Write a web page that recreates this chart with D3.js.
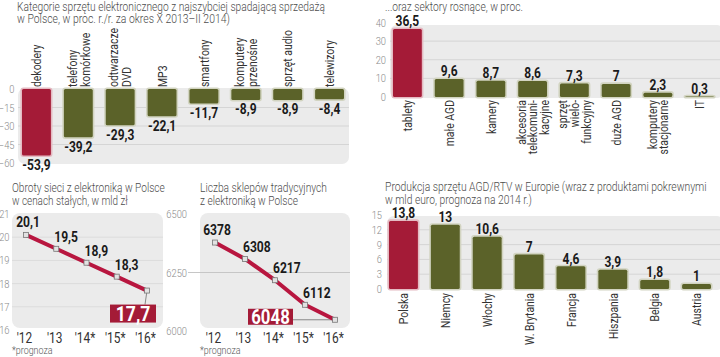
<!DOCTYPE html>
<html><head><meta charset="utf-8">
<script src="https://cdn.jsdelivr.net/npm/d3@7"></script>
<style>
body{margin:0;background:#fff;}
svg{display:block;}
</style></head><body>
<svg id="c" width="720" height="357"></svg>
<script>
// ---------- DATA ----------
const declineCats = ["dekodery","telefony|komórkowe","odtwarzacze|DVD","MP3","smartfony","komputery|przenośne","sprzęt audio","telewizory"];
const declineVals = [-53.9,-39.2,-29.3,-22.1,-11.7,-8.9,-8.9,-8.4];
const declineTicks = [0,-15,-30,-45,-60];

const growthCats = ["tablety","małe AGD","kamery","akcesoria|telekomuni-|kacyjne","sprzęt|wielo-|funkcyjny","duże AGD","komputery|stacjonarne","IT"];
const growthVals = [36.5,9.6,8.7,8.6,7.3,7,2.3,0.3];
const growthTicks = [0,10,20,30,40];

const years = ["'12","'13","'14*","'15*","'16*"];
const turnoverVals = [20.1,19.5,18.9,18.3,17.7];
const turnoverTicks = [16,17,18,19,20,21];
const shopVals = [6378,6308,6217,6112,6048];
const shopTicks = [6000,6250,6500];

const countries = ["Polska","Niemcy","Włochy","W. Brytania","Francja","Hiszpania","Belgia","Austria"];
const prodVals = [13.8,13,10.6,7,4.6,3.9,1.8,1];
const prodTicks = [0,3,6,9,12,15];

// ---------- STYLE ----------
const svg = d3.select("#c");
const FONT = "Roboto,'Liberation Sans',sans-serif";
const RED="#a41b37", OLIVE="#5b6229", HALO="#d2d4c1", RED_HALO="#e4bac2", BG="#ebebeb", GRID="#d5d5d5";
const fmt = v => String(v).replace('.', ',');

// squeeze glyphs horizontally (imitates the condensed typeface of the original)
function condense(sel, f){
  sel.each(function(){
    const s = d3.select(this);
    const X = +s.attr("x") || 0, Y = +s.attr("y") || 0;
    const T = s.attr("transform") || "";
    s.attr("x",0).attr("y",0).attr("transform",`${T} translate(${X},${Y}) scale(${f},1)`);
  });
}

function title(x, y, text, len){
  const t = svg.append("text").attr("x",x).attr("y",y)
    .attr("font-family",FONT).attr("font-weight",300).attr("font-size",12.5).attr("fill","#4d4d4d")
    .text(text);
  const L = t.node().getComputedTextLength();
  condense(t, len/L);
}

function styleAxis(a, size, color, weight, f){
  a.select(".domain").remove();
  const t = a.selectAll("text").attr("font-family",FONT).attr("font-size",size)
    .attr("font-weight",weight).attr("fill",color);
  condense(t, f);
}

function barPanel(o){
  const g = svg.append("g");
  const x = d3.scaleBand().domain(o.cats).range(o.xRange).paddingInner(0.31).paddingOuter(0);
  const y = d3.scaleLinear().domain(o.yDomain).range(o.yRange);
  const [bx0,by0,bx1,by1] = o.bg;
  g.append("rect").attr("x",bx0).attr("y",by0).attr("width",bx1-bx0).attr("height",by1-by0)
    .attr("rx",7).attr("fill",BG);
  g.selectAll(".grid").data(o.ticks.filter(t => y(t) > by0+2 && y(t) < by1-2)).join("line")
    .attr("x1",bx0).attr("x2",bx1).attr("y1",d=>y(d)).attr("y2",d=>y(d))
    .attr("stroke",GRID).attr("stroke-width",1);
  const ax = g.append("g").attr("transform",`translate(${o.tickX},0)`)
    .call(d3.axisLeft(y).tickValues(o.ticks).tickSize(0).tickPadding(0));
  styleAxis(ax, 11, "#8a8a8a", 300, 0.85);

  const data = o.cats.map((c,i)=>({c, v:o.vals[i], i}));
  const bw = x.bandwidth();
  const top = d => Math.min(y(d.v), y(0));
  const hgt = d => Math.abs(y(d.v)-y(0));
  g.selectAll(".halo").data(data).join("rect")
    .attr("x",d=>x(d.c)-1.6).attr("y",d=>top(d)-1.6).attr("width",bw+3.2).attr("height",d=>hgt(d)+3.2)
    .attr("rx",3).attr("fill",d=>d.i===0?RED_HALO:HALO);
  g.selectAll(".bar").data(data).join("rect")
    .attr("x",d=>x(d.c)).attr("y",top).attr("width",bw).attr("height",hgt)
    .attr("rx",1.5).attr("fill",d=>d.i===0?RED:OLIVE);

  const vt = g.selectAll(".val").data(data).join("text")
    .attr("x",d=>x(d.c)+bw/2)
    .attr("y",d=> o.below ? y(d.v)+14.5 : y(d.v)-2.8)
    .attr("text-anchor","middle").attr("font-family",FONT).attr("font-weight","bold")
    .attr("font-size",15).attr("fill","#1a1a1a").text(d=>fmt(d.v));
  condense(vt, 0.8);

  data.forEach(d=>{
    const lines = d.c.split("|");
    const n = lines.length;
    lines.forEach((ln,k)=>{
      const cx = x(d.c)+bw/2 + (k-(n-1)/2)*o.lineGap;
      g.append("text").attr("transform",`translate(${cx},${o.catY}) rotate(-90) scale(0.8,1)`)
        .attr("dy","0.36em").attr("text-anchor",o.catAnchor)
        .attr("font-family",FONT).attr("font-size",13).attr("fill","#333").text(ln);
    });
  });
}

function linePanel(o){
  const g = svg.append("g");
  const x = d3.scalePoint().domain(years).range(o.xRange);
  const y = d3.scaleLinear().domain(o.yDomain).range(o.yRange);
  const [bx0,by0,bx1,by1] = o.bg;
  g.append("rect").attr("x",bx0).attr("y",by0).attr("width",bx1-bx0).attr("height",by1-by0)
    .attr("rx",8).attr("fill",BG);
  g.selectAll(".grid").data(o.ticks.filter(t => y(t) > by0+2 && y(t) < by1-2)).join("line")
    .attr("x1",o.gridX0).attr("x2",bx1).attr("y1",d=>y(d)).attr("y2",d=>y(d))
    .attr("stroke",o.gridColor).attr("stroke-width",1);
  const ay = g.append("g").attr("transform",`translate(${o.tickX},0)`)
    .call(d3.axisLeft(y).tickValues(o.ticks).tickFormat(d3.format("d")).tickSize(0).tickPadding(0));
  styleAxis(ay, 11, "#8a8a8a", 300, 0.85);
  const axb = g.append("g").attr("transform",`translate(-2,333)`)
    .call(d3.axisBottom(x).tickSize(0).tickPadding(0));
  styleAxis(axb, 14, "#333", 400, 0.85);

  const pn = g.append("text").attr("x",bx0).attr("y",354).attr("font-family",FONT)
    .attr("font-weight",300).attr("font-size",10.5).attr("fill","#555").text("*prognoza");
  condense(pn, 0.85);

  const data = years.map((yr,i)=>({yr, v:o.vals[i], i}));
  const last = data[data.length-1];
  const lx = x(last.yr), ly = y(last.v);
  const box = o.boxSide === "below"
    ? {x: lx+9-46, y: ly+14, w: 46, h: 18}
    : {x: lx-87, y: ly-11, w: 45, h: 16};
  if (o.boxSide === "below")
    g.append("line").attr("x1",lx).attr("y1",ly).attr("x2",lx-2).attr("y2",box.y).attr("stroke","#888").attr("stroke-width",1);
  else
    g.append("line").attr("x1",box.x+box.w).attr("y1",ly).attr("x2",lx).attr("y2",ly).attr("stroke","#888").attr("stroke-width",1);

  g.append("path").datum(data)
    .attr("d", d3.line().x(d=>x(d.yr)).y(d=>y(d.v)))
    .attr("fill","none").attr("stroke","#b8163f").attr("stroke-width",4).attr("stroke-linejoin","round");
  g.selectAll(".pt").data(data).join("rect")
    .attr("x",d=>x(d.yr)-2.5).attr("y",d=>y(d.v)-2.5).attr("width",5).attr("height",5)
    .attr("fill","#e2e2e2").attr("stroke","#777").attr("stroke-width",0.8);

  const vt = g.selectAll(".val").data(data.slice(0,-1)).join("text")
    .attr("x",d=> d.i===0 ? x(d.yr)+2 : x(d.yr)-2)
    .attr("y",d=> y(d.v) - (d.i===0 ? 8 : 7))
    .attr("text-anchor",d=> d.i===0 ? "middle" : "start")
    .attr("font-family",FONT).attr("font-weight","bold").attr("font-size",15.5)
    .attr("fill","#1a1a1a").text(d=>fmt(d.v));
  condense(vt, 0.78);

  g.append("rect").attr("x",box.x).attr("y",box.y).attr("width",box.w).attr("height",box.h).attr("fill",RED);
  const bt = g.append("text").attr("x",box.x+box.w/2).attr("y",box.y+box.h/2).attr("dy","0.36em")
    .attr("text-anchor","middle").attr("font-family",FONT).attr("font-weight","bold")
    .attr("font-size",o.boxFont).attr("fill","#fff").text(fmt(last.v));
  condense(bt, 0.84);
}

// ---------- TITLES ----------
title(17, 11, "Kategorie sprzętu elektronicznego z najszybciej spadającą sprzedażą", 308);
title(17, 23, "w Polsce, w proc. r./r. za okres X 2013–II 2014)", 213);
title(385, 11, "...oraz sektory rosnące, w proc.", 138);
title(12, 192, "Obroty sieci z elektroniką w Polsce", 153);
title(12, 205, "w cenach stałych, w mld zł", 116);
title(200, 192, "Liczba sklepów tradycyjnych", 127);
title(200, 205, "z elektroniką w Polsce", 98);
title(385, 191, "Produkcja sprzętu AGD/RTV w Europie (wraz z produktami pokrewnymi", 322);
title(385, 204, "w mld euro, prognoza na 2014 r.)", 147);

// ---------- PANELS ----------
barPanel({cats:declineCats, vals:declineVals, ticks:declineTicks,
  xRange:[22,344], yDomain:[0,-60], yRange:[89,163], bg:[18,88,349,164],
  tickX:14.5, below:true, catY:87, catAnchor:"start", lineGap:13});

barPanel({cats:growthCats, vals:growthVals, ticks:growthTicks,
  xRange:[393,714], yDomain:[0,40], yRange:[97,22.5], bg:[390,25,724,98],
  tickX:386, below:false, catY:100, catAnchor:"end", lineGap:11.8});

barPanel({cats:countries, vals:prodVals, ticks:prodTicks,
  xRange:[389,711], yDomain:[0,15], yRange:[289,215], bg:[387,216,724,290],
  tickX:382, below:false, catY:293, catAnchor:"end", lineGap:12});

linePanel({vals:turnoverVals, ticks:turnoverTicks, xRange:[26,147],
  yDomain:[16,21], yRange:[330,214], bg:[12,213,163,328], tickX:9.5,
  gridX0:12, gridColor:"#dcdcdc", boxSide:"below", boxFont:21});

linePanel({vals:shopVals, ticks:shopTicks, xRange:[215,335],
  yDomain:[6000,6500], yRange:[331,214], bg:[200,213,350,328], tickX:187,
  gridX0:188, gridColor:"#c6c6c6", boxSide:"left", boxFont:20});
</script>
</body></html>
